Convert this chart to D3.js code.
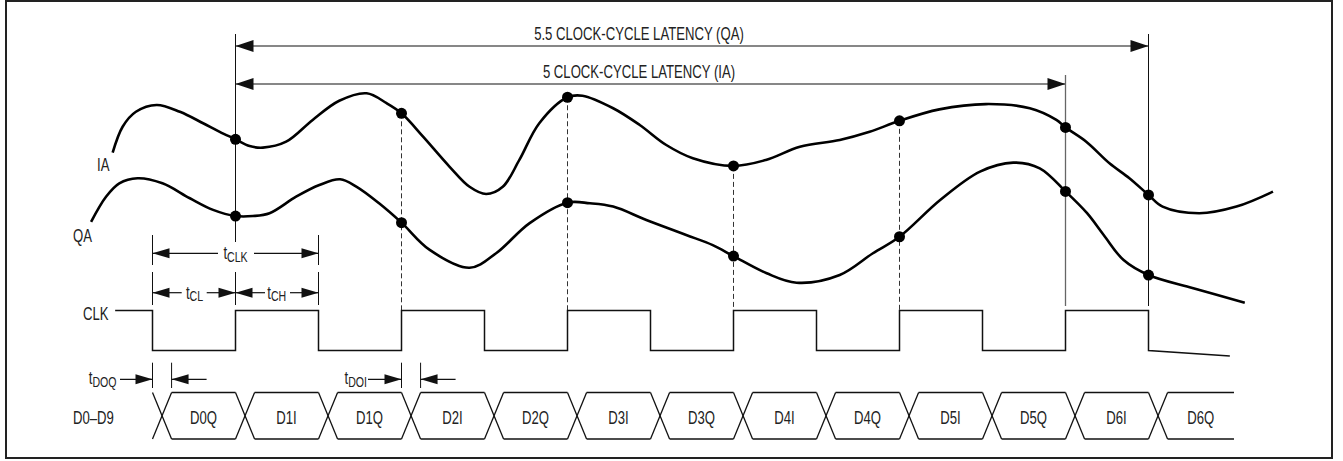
<!DOCTYPE html>
<html><head><meta charset="utf-8">
<script src="https://cdn.jsdelivr.net/npm/d3@7"></script>
<style>
html,body{margin:0;padding:0;background:#fff;}
svg{display:block;}
text{font-family:"Liberation Sans",Arial,sans-serif;fill:#222;}
</style>
</head><body>
<svg id="c" width="1343" height="461"></svg>
<script>
// ---- data (time in half clock-cycles, signal level in arbitrary units 0..100) ----
const iaT = [-0.48,-0.36,-0.2,0.05,0.33,0.61,0.81,1,1.17,1.33,1.61,1.93,2.25,2.58,2.82,3,3.26,3.58,3.82,4.02,4.22,4.42,4.66,5,5.18,5.55,5.87,6.19,6.51,7,7.39,7.8,8.28,8.64,9,9.48,10.04,10.57,10.89,11,11.25,11.53,11.77,12,12.17,12.61,13.06,13.5];
const iaV = [71.5,83.3,90.1,93.2,90.1,84.9,81,77.6,74.5,73.8,76.5,86.4,95.1,98.5,94,89.4,78.8,65.1,56,52.7,56,68.2,84.9,96.7,97.4,91.7,84.1,75,69,65.5,68.2,74.2,77.3,81,86,91.2,93.6,91.7,86.4,83,76.5,66.7,59.9,52.3,47,44,47,53.8];
const qaT = [-0.74,-0.56,-0.4,-0.18,0.12,0.45,0.73,1,1.21,1.41,1.73,2.01,2.26,2.46,2.73,3,3.34,3.82,4.14,4.54,5,5.27,5.55,5.95,6.43,6.75,7,7.4,7.76,8.28,8.68,9,9.49,9.97,10.37,10.69,11,11.26,11.46,11.7,12,12.54,13.16];
const qaV = [40.1,51.5,57.6,59.9,57.6,50.8,45.5,42.7,42.7,44,51.5,56.8,59.4,56,48.5,39.7,27.3,19.2,25.8,39.4,48.8,48.5,47,40.9,34.1,29.5,24.5,16.7,12.4,15.9,25.8,33.3,50,62.9,67,64.4,53.9,44,34.1,22.7,15.9,9.9,3.3];
const sampleTimes = [1,3,5,7,9,11,12];           // sampling instants (dots)
const dashedTimes = [3,5,7,9];
const clkEdgeT = [0,1,2,3,4,5,6,7,8,9,10,11,12]; // clock edges (first is falling)
const clkStartT = -0.45, clkEndT = 12.98, clkEndLevel = -0.14;
const busLabels = ["D0Q","D1I","D1Q","D2I","D2Q","D3I","D3Q","D4I","D4Q","D5I","D5Q","D6I","D6Q"];
const busDelay = 0.23, busEndT = 13.03;
const latency = [
  {label:"5.5 CLOCK-CYCLE LATENCY (QA)", from:1, to:12},
  {label:"5 CLOCK-CYCLE LATENCY (IA)",   from:1, to:11}
];
const sigLabels = ["IA","QA","CLK","D0\u2013D9"];

// ---- scales ----
const T = d3.scaleLinear().domain([0,12]).range([152.5,1148.5]);
const V = d3.scaleLinear().domain([0,100]).range([310,90]);
const C = d3.scaleLinear().domain([0,1]).range([350.5,310.5]);
const SX = 0.73;

const svg = d3.select("#c");
svg.append("rect").attr("x",6).attr("y",1).attr("width",1326).attr("height",457)
  .attr("fill","none").attr("stroke","#222").attr("stroke-width",2);

function line(x1,y1,x2,y2,w,col,dash){
  const l = svg.append("line").attr("x1",x1).attr("y1",y1).attr("x2",x2).attr("y2",y2)
    .attr("stroke",col||"#111").attr("stroke-width",w||1);
  if(dash) l.attr("stroke-dasharray",dash);
  return l;
}
function head(xTip,y,dir,len,hw){ // dir -1 points left, +1 points right
  svg.append("path").attr("d",`M${xTip},${y}L${xTip-dir*len},${y-hw}L${xTip-dir*len},${y+hw}Z`).attr("fill","#111");
}
function label(x,y,main,sub,anchor,size){
  const t = svg.append("text").attr("transform",`translate(${x},${y}) scale(${SX},1)`)
    .attr("text-anchor",anchor||"start").style("font-size",(size||18)+"px");
  t.append("tspan").text(main);
  if(sub) t.append("tspan").attr("dy",2.5).style("font-size","14.5px").text(sub);
}

// ---- latency arrows ----
const latY = [46,84];
latency.forEach((d,i)=>{
  const y = latY[i];
  line(T(d.from),y,T(d.to),y,1.2);
  head(T(d.from),y,-1,18,6);
  head(T(d.to),y,1,18,6);
  label(639,y-6.5,d.label,null,"middle",18);
});
// verticals
line(T(1),34,T(1),242,1);
line(T(12),34,T(12),306,1);
line(T(11),75,T(11),306,1.3,"#666");
const iaAt = t => iaV[iaT.indexOf(t)], qaAt = t => qaV[qaT.indexOf(t)];
dashedTimes.forEach(t=>line(T(t),V(iaAt(t)),T(t),310,1,"#333","5,3"));

// ---- waveforms ----
const gen = d3.line().x(d=>T(d[0])).y(d=>V(d[1])).curve(d3.curveCatmullRom.alpha(0.5));
svg.append("path").attr("d",gen(iaT.map((t,i)=>[t,iaV[i]]))).attr("fill","none").attr("stroke","#000").attr("stroke-width",2.6);
svg.append("path").attr("d",gen(qaT.map((t,i)=>[t,qaV[i]]))).attr("fill","none").attr("stroke","#000").attr("stroke-width",2.6);
sampleTimes.forEach(t=>{
  svg.append("circle").attr("cx",T(t)).attr("cy",V(iaAt(t))).attr("r",5.5).attr("fill","#000");
  svg.append("circle").attr("cx",T(t)).attr("cy",V(qaAt(t))).attr("r",5.5).attr("fill","#000");
});

// ---- clock ----
let pts = [[clkStartT,1]], lvl = 1;
clkEdgeT.forEach(t=>{ pts.push([t,lvl]); lvl = 1-lvl; pts.push([t,lvl]); });
pts.push([clkEndT,clkEndLevel]);
svg.append("path").attr("d",d3.line().x(d=>T(d[0])).y(d=>C(d[1]))(pts))
  .attr("fill","none").attr("stroke","#111").attr("stroke-width",1.5);

// ---- data bus ----
const bT = 392.5, bB = 439;
busLabels.forEach((lab,i)=>{
  const t0 = clkEdgeT[i], x0 = T(t0), x1 = T(t0+busDelay);
  const xe = i < busLabels.length-1 ? T(clkEdgeT[i+1]) : T(busEndT);
  line(x0,bT,x1,bB,1.3); line(x0,bB,x1,bT,1.3);
  line(x1,bT,xe,bT,1.3); line(x1,bB,xe,bB,1.3);
  label((x1+xe)/2,424,lab,null,"middle",18);
});

// ---- timing annotations ----
// tCLK
line(T(0),235,T(0),265,1); line(T(2),235,T(2),265,1);
line(T(0),253.3,218,253.3,1.2); line(254,253.3,T(2),253.3,1.2);
head(T(0),253.3,-1,17,5); head(T(2),253.3,1,17,5);
label(235.5,259,"t","CLK","middle");
// tCL / tCH
[0,1,2].forEach(t=>line(T(t),272,T(t),305,1));
const yc = 292.7;
line(T(0),yc,181.7,yc,1.2); line(206.7,yc,T(1),yc,1.2);
head(T(0),yc,-1,17,5); head(T(1),yc,1,17,5);
line(T(1),yc,265,yc,1.2); line(290,yc,T(2),yc,1.2);
head(T(1),yc,-1,17,5); head(T(2),yc,1,17,5);
label(194.5,298.5,"t","CL","middle");
label(276.7,298.5,"t","CH","middle");
// tDOQ / tDOI
[[0,"DOQ",116.5,120],[3,"DOI",367,368]].forEach(([t,sub,tx,lx])=>{
  const xa = T(t), xb = T(t+busDelay), y = 379.3;
  line(xa,362.7,xa,388,1); line(xb,362.7,xb,388,1);
  line(lx,y,xa,y,1.2); head(xa,y,1,17,5);
  line(xb,y,xb+35,y,1.2); head(xb,y,-1,17,5);
  label(tx,384,"t",sub,"end");
});

// ---- signal names ----
label(97,171,sigLabels[0]);
label(73,242,sigLabels[1]);
label(83,320,sigLabels[2]);
label(73,424,sigLabels[3]);
</script>
</body></html>
